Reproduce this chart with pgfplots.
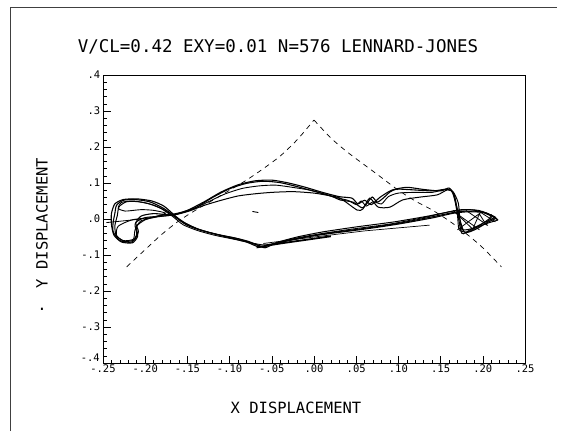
\documentclass[border=0pt]{standalone}
\usepackage{fontspec}
\setmainfont{DejaVu Sans Mono}
\usepackage{pgfplots}
\pgfplotsset{compat=1.18}
\begin{document}
\begin{tikzpicture}
\useasboundingbox (-103pt,-68pt) rectangle (461pt,363pt);
\draw[line width=0.8pt, black!75] (-93pt,-68pt) -- (-93pt,356pt) -- (454pt,356pt);
\begin{axis}[
  at={(0,0)}, anchor=south west, scale only axis,
  width=422pt, height=288pt,
  xmin=-0.25, xmax=0.25, ymin=-0.4, ymax=0.4,
  xtick={-0.25,-0.2,-0.15,-0.1,-0.05,0,0.05,0.1,0.15,0.2,0.25},
  xticklabels={-.25,-.20,-.15,-.10,-.05,.00,.05,.10,.15,.20,.25},
  ytick={-0.4,-0.3,-0.2,-0.1,0,0.1,0.2,0.3,0.4},
  yticklabels={,-.3,-.2,-.1,.0,.1,.2,.3,.4},
  minor x tick num=4, minor y tick num=4,
  tick align=inside, xtick pos=bottom, ytick pos=left,
  major tick length=7.5pt, minor tick length=3.5pt,
  tick style={black, line width=0.6pt},
  axis line style={black, line width=0.8pt},
  ticklabel style={font=\fontsize{10.5}{11}\selectfont},
  xticklabel style={inner sep=1.5pt},
  yticklabel style={inner sep=2.5pt},
  clip mode=individual,
]
% dashed envelope
\addplot[black, line width=0.7pt, dash pattern=on 5pt off 4.5pt, smooth, tension=0.5] coordinates {
(-0.222,-0.133) (-0.20,-0.085) (-0.18,-0.042) (-0.16,-0.005) (-0.14,0.025) (-0.12,0.052) (-0.10,0.080) (-0.08,0.108) (-0.06,0.140) (-0.04,0.175) (-0.02,0.220) (0,0.275)
};
\addplot[black, line width=0.7pt, dash pattern=on 5pt off 4.5pt, smooth, tension=0.5] coordinates {
(0,0.275) (0.02,0.225) (0.04,0.185) (0.06,0.150) (0.08,0.115) (0.10,0.080) (0.12,0.050) (0.14,0.025) (0.16,-0.005) (0.18,-0.040) (0.20,-0.080) (0.222,-0.133)
};
% trajectories
\addplot[black, line width=1.1pt, smooth, tension=0.4] coordinates {
(0.215,0.005) (0.200,0.020) (0.180,0.022) (0.165,0.018) (0.140,0.006) (0.100,-0.012) (0.060,-0.026) (0.020,-0.038) (0.000,-0.046) (-0.030,-0.060) (-0.050,-0.071) (-0.062,-0.076) (-0.078,-0.062) (-0.095,-0.052) (-0.115,-0.043) (-0.135,-0.030) (-0.152,-0.012) (-0.166,0.010) (-0.180,0.032) (-0.195,0.048) (-0.212,0.054) (-0.226,0.052) (-0.234,0.038) (-0.236,0.015) (-0.238,-0.010) (-0.238,-0.035) (-0.230,-0.060) (-0.216,-0.064) (-0.210,-0.042) (-0.212,-0.015) (-0.205,0.008) (-0.190,0.015) (-0.172,0.012) (-0.158,0.018) (-0.140,0.032) (-0.120,0.060) (-0.100,0.084) (-0.080,0.099) (-0.060,0.105) (-0.040,0.101) (-0.020,0.090) (0.000,0.077) (0.020,0.064) (0.031,0.053) (0.046,0.047) (0.057,0.031) (0.063,0.044) (0.069,0.061) (0.075,0.047) (0.082,0.058) (0.090,0.075) (0.098,0.083) (0.117,0.081) (0.141,0.078) (0.158,0.083) (0.165,0.072) (0.169,0.033) (0.175,-0.039) (0.185,-0.030) (0.200,-0.012) (0.215,0.005)
};
\addplot[black, line width=1.0pt, smooth, tension=0.4] coordinates {
(0.218,-0.003) (0.205,0.016) (0.185,0.026) (0.165,0.022) (0.135,0.008) (0.095,-0.008) (0.050,-0.022) (0.010,-0.036) (-0.020,-0.050) (-0.045,-0.066) (-0.058,-0.080) (-0.070,-0.070) (-0.090,-0.055) (-0.110,-0.045) (-0.130,-0.034) (-0.150,-0.018) (-0.165,0.006) (-0.178,0.026) (-0.192,0.040) (-0.208,0.048) (-0.222,0.048) (-0.231,0.034) (-0.233,0.010) (-0.236,-0.020) (-0.234,-0.048) (-0.224,-0.062) (-0.213,-0.058) (-0.208,-0.035) (-0.211,-0.010) (-0.200,0.004) (-0.180,0.008) (-0.164,0.012) (-0.148,0.022) (-0.130,0.038) (-0.110,0.052) (-0.090,0.064) (-0.070,0.070) (-0.050,0.074) (-0.025,0.076) (0.000,0.072) (0.020,0.064) (0.031,0.058) (0.051,0.025) (0.058,0.028) (0.066,0.058) (0.076,0.033) (0.090,0.033) (0.105,0.053) (0.126,0.061) (0.146,0.067) (0.158,0.081) (0.165,0.075) (0.171,0.044) (0.173,-0.003) (0.176,-0.030) (0.190,-0.025) (0.205,-0.012) (0.218,-0.003)
};
\addplot[black, line width=0.9pt, smooth, tension=0.4] coordinates {
(0.212,0.008) (0.195,0.024) (0.175,0.026) (0.160,0.020) (0.130,0.004) (0.090,-0.014) (0.045,-0.028) (0.005,-0.042) (-0.025,-0.055) (-0.048,-0.068) (-0.060,-0.072) (-0.075,-0.066) (-0.095,-0.056) (-0.118,-0.045) (-0.138,-0.032) (-0.155,-0.016) (-0.168,0.008) (-0.182,0.030) (-0.198,0.044) (-0.215,0.050) (-0.228,0.046) (-0.232,0.030) (-0.224,0.022) (-0.205,0.026) (-0.190,0.024) (-0.176,0.016) (-0.190,0.005) (-0.215,-0.002) (-0.232,-0.020) (-0.234,-0.045) (-0.226,-0.060) (-0.214,-0.056) (-0.212,-0.030) (-0.205,-0.005) (-0.185,0.006) (-0.165,0.012) (-0.145,0.026) (-0.125,0.048) (-0.105,0.070) (-0.085,0.085) (-0.065,0.092) (-0.045,0.094) (-0.020,0.086) (0.000,0.078) (0.025,0.060) (0.040,0.052) (0.050,0.040) (0.056,0.050) (0.062,0.036) (0.070,0.048) (0.080,0.042) (0.088,0.062) (0.100,0.072) (0.120,0.074) (0.140,0.074) (0.155,0.082) (0.163,0.078) (0.167,0.050) (0.170,0.010) (0.172,-0.030) (0.182,-0.036) (0.195,-0.020) (0.212,0.008)
};
\addplot[black, line width=1.1pt, smooth, tension=0.4] coordinates {
(0.216,0.002) (0.200,0.018) (0.182,0.020) (0.165,0.016) (0.140,0.003) (0.100,-0.014) (0.060,-0.028) (0.020,-0.040) (-0.010,-0.050) (-0.035,-0.062) (-0.055,-0.074) (-0.065,-0.078) (-0.080,-0.064) (-0.100,-0.052) (-0.120,-0.040) (-0.140,-0.026) (-0.156,-0.008) (-0.166,0.012) (-0.178,0.036) (-0.192,0.050) (-0.210,0.056) (-0.226,0.054) (-0.236,0.042) (-0.240,0.015) (-0.240,-0.015) (-0.237,-0.045) (-0.228,-0.064) (-0.215,-0.066) (-0.209,-0.048) (-0.210,-0.020) (-0.200,-0.002) (-0.182,0.010) (-0.166,0.012) (-0.150,0.024) (-0.130,0.048) (-0.110,0.075) (-0.090,0.095) (-0.070,0.106) (-0.050,0.108) (-0.030,0.100) (-0.010,0.088) (0.010,0.074) (0.030,0.062) (0.045,0.058) (0.052,0.042) (0.060,0.052) (0.068,0.040) (0.078,0.060) (0.092,0.080) (0.110,0.088) (0.130,0.082) (0.150,0.078) (0.160,0.086) (0.166,0.068) (0.170,0.025) (0.178,-0.036) (0.192,-0.028) (0.205,-0.010) (0.216,0.002)
};
% right cross-hatch
\addplot[black, line width=0.8pt] coordinates {(0.165,0.024) (0.180,-0.010) (0.188,-0.028) (0.196,0.014) (0.204,-0.016) (0.210,0.012) (0.218,-0.002)};
\addplot[black, line width=0.8pt] coordinates {(0.166,0.020) (0.196,-0.030)};
\addplot[black, line width=0.8pt] coordinates {(0.180,0.024) (0.206,-0.018)};
\addplot[black, line width=0.8pt] coordinates {(0.195,0.022) (0.215,-0.008)};
\addplot[black, line width=0.8pt] coordinates {(0.170,-0.030) (0.200,0.022)};
% lower strands
\addplot[black, line width=0.7pt] coordinates {(-0.060,-0.068) (0.000,-0.050) (0.060,-0.033) (0.137,-0.017)};
\addplot[black, line width=1.8pt, smooth] coordinates {(-0.068,-0.079) (-0.040,-0.068) (-0.010,-0.058) (0.020,-0.048)};
\addplot[black, line width=0.8pt] coordinates {(-0.246,-0.010) (-0.225,-0.005) (-0.205,0.000)};
\addplot[black, line width=0.9pt] coordinates {(-0.073,0.021) (-0.066,0.018)};
\node[anchor=south east, inner sep=1pt, xshift=-2pt, yshift=0.8pt, font=\fontsize{10.5}{11}\selectfont] at (axis cs:-0.25,-0.4) {-.4};
\end{axis}
\node at (175pt,316pt) {\fontsize{17.5}{20}\selectfont V/CL=0.42 EXY=0.01 N=576 LENNARD-JONES};
\node at (193pt,-45pt) {\fontsize{15.5}{18}\selectfont X DISPLACEMENT};
\node[rotate=90] at (-61pt,140pt) {\fontsize{15.5}{18}\selectfont Y DISPLACEMENT};
\node at (-61pt,54pt) {\fontsize{15.5}{18}\selectfont .};
\end{tikzpicture}
\end{document}
